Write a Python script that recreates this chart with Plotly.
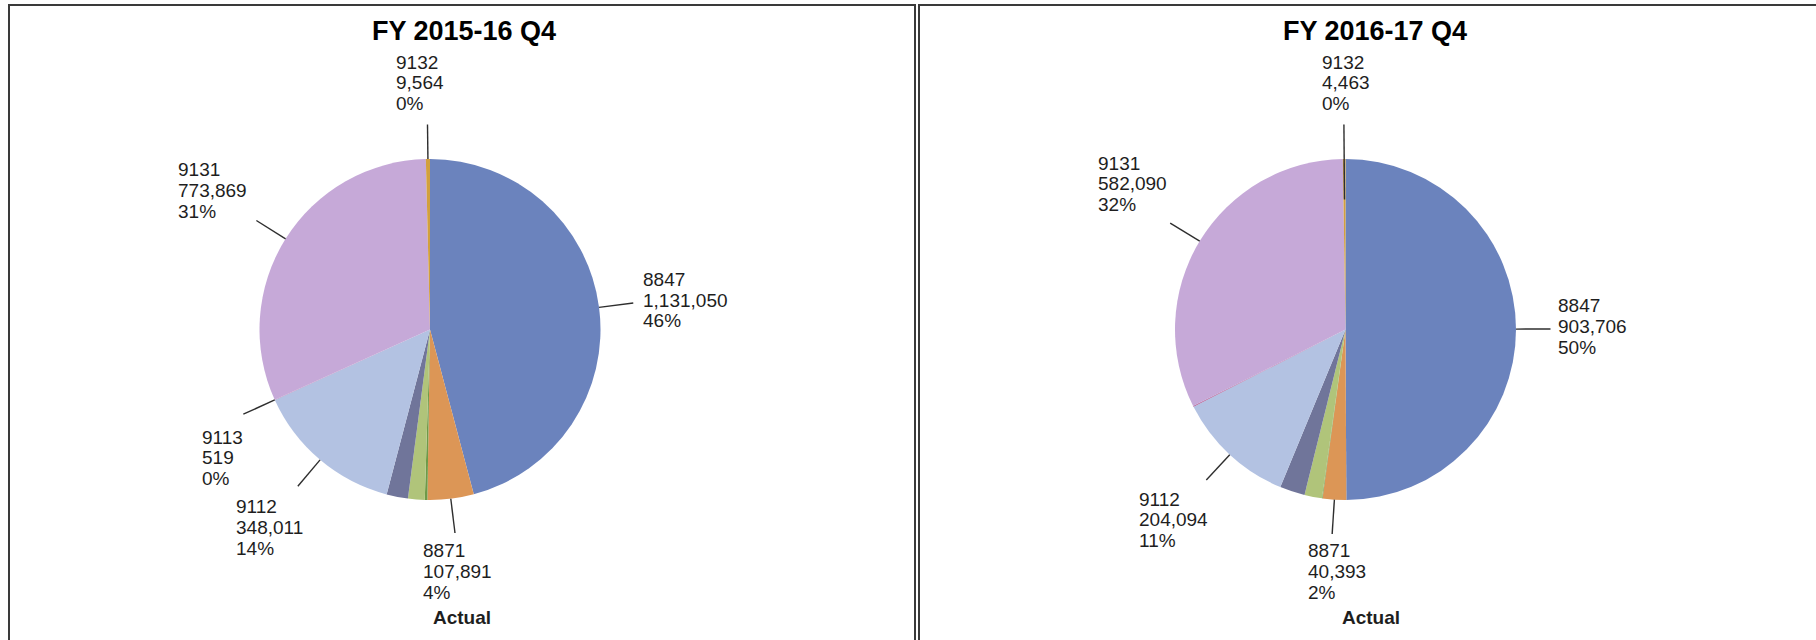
import math
import plotly.graph_objects as go

# ---------------- data ----------------
categories = ["8847", "8871", "Other A", "Other B", "Other C", "9112", "9113", "9131", "9132"]
values_fy2015 = [1131050, 107891, 6000, 39000, 50000, 348011, 519, 773869, 9564]
values_fy2016 = [903706, 40393, 1000, 30000, 43000, 204094, 1500, 582090, 4463]
chart_titles = ["FY 2015-16 Q4", "FY 2016-17 Q4"]
labelled_fy2015 = ["8847", "8871", "9112", "9113", "9131", "9132"]
labelled_fy2016 = ["8847", "8871", "9112", "9131", "9132"]
caption = "Actual"

# ---------------- style ----------------
W, H = 1816, 640
FONT = "Liberation Sans, Arial, sans-serif"
TEXT_COLOR = "#1e1e1e"
slice_colors = {
    "8847": "#6b83bd",
    "8871": "#dc9656",
    "Other A": "#6e9a48",
    "Other B": "#b0c47a",
    "Other C": "#70759a",
    "9112": "#b3c2e2",
    "9113": "#b0568e",
    "9131": "#c6a9d8",
    "9132": "#d2a03e",
}

panels = [
    dict(values=values_fy2015, title=chart_titles[0], labelled=labelled_fy2015,
         cx=430, cy=329.5, r=170.5, box=(9, 915), title_x=464, caption_x=462,
         r_in={},
         offsets={"8847": (8.4, -30.7), "8871": (-32.5, 11), "9112": (-63, 13.7),
                  "9113": (-42.6, 15.8), "9131": (-79.3, -57.6), "9132": (-32.9, -69.5)}),
    dict(values=values_fy2016, title=chart_titles[1], labelled=labelled_fy2016,
         cx=1345.5, cy=329.5, r=170.5, box=(919, 1840), title_x=1374.7, caption_x=1371,
         r_in={"9132": 130},
         offsets={"8847": (6.5, -30), "8871": (-25.6, 9.9), "9112": (-68.3, 12),
                  "9131": (-72.9, -67.2), "9132": (-22.9, -69.5)}),
]

LEADER_OUT = 205
LINE_GAP = 20.8
CAP_HALF = 7.0


def px(x):
    return x / W


def py(y):
    return 1 - y / H


fig = go.Figure()
shapes = []
annotations = []

for p in panels:
    vals = p["values"]
    total = float(sum(vals))
    cx, cy, r = p["cx"], p["cy"], p["r"]
    fig.add_trace(go.Pie(
        labels=categories, values=vals, sort=False, direction="clockwise", rotation=0,
        marker=dict(colors=[slice_colors[c] for c in categories], line=dict(width=0)),
        textinfo="none", hoverinfo="label+value+percent", showlegend=False,
        domain=dict(x=[px(cx - r), px(cx + r)], y=[py(cy + r), py(cy - r)]),
    ))

    # panel frame
    shapes.append(dict(type="rect", xref="paper", yref="paper",
                       x0=px(p["box"][0]), x1=px(p["box"][1]), y0=py(5), y1=py(700),
                       line=dict(color="#3a3a3a", width=2), fillcolor="rgba(0,0,0,0)"))
    # title
    annotations.append(dict(x=px(p["title_x"]), y=py(31.3), xref="paper", yref="paper",
                            xanchor="center", yanchor="middle", showarrow=False, borderpad=0,
                            text="<b>" + p["title"] + "</b>",
                            font=dict(family=FONT, size=27, color="#000000")))
    # caption
    annotations.append(dict(x=px(p["caption_x"]), y=py(617.7), xref="paper", yref="paper",
                            xanchor="center", yanchor="middle", showarrow=False, borderpad=0,
                            text="<b>" + caption + "</b>",
                            font=dict(family=FONT, size=19, color=TEXT_COLOR)))

    cum = 0.0
    for cat, v in zip(categories, vals):
        mid = (cum + v / 2.0) / total * 2 * math.pi
        cum += v
        if cat not in p["labelled"]:
            continue
        rin = p["r_in"].get(cat, r)
        s, c = math.sin(mid), math.cos(mid)
        x0, y0 = cx + rin * s, cy - rin * c
        x1, y1 = cx + LEADER_OUT * s, cy - LEADER_OUT * c
        shapes.append(dict(type="line", xref="paper", yref="paper",
                           x0=px(x0), y0=py(y0), x1=px(x1), y1=py(y1),
                           line=dict(color="#2e2e2e", width=1.4)))
        ox, oy = p["offsets"][cat]
        pct = int(v / total * 100 + 0.5)
        lines = [cat, f"{v:,}", f"{pct}%"]
        for i, t in enumerate(lines):
            annotations.append(dict(
                x=px(x1 + ox), y=py(y1 + oy + CAP_HALF + i * LINE_GAP),
                xref="paper", yref="paper", xanchor="left", yanchor="middle",
                showarrow=False, borderpad=0, text=t,
                font=dict(family=FONT, size=19, color=TEXT_COLOR)))

fig.update_layout(
    width=W, height=H,
    margin=dict(l=0, r=0, t=0, b=0),
    paper_bgcolor="#ffffff", plot_bgcolor="#ffffff",
    shapes=shapes, annotations=annotations,
)

fig.write_html("out.html", config={"displayModeBar": False},
               post_script="document.body.style.margin='0';document.body.style.overflow='hidden';")
